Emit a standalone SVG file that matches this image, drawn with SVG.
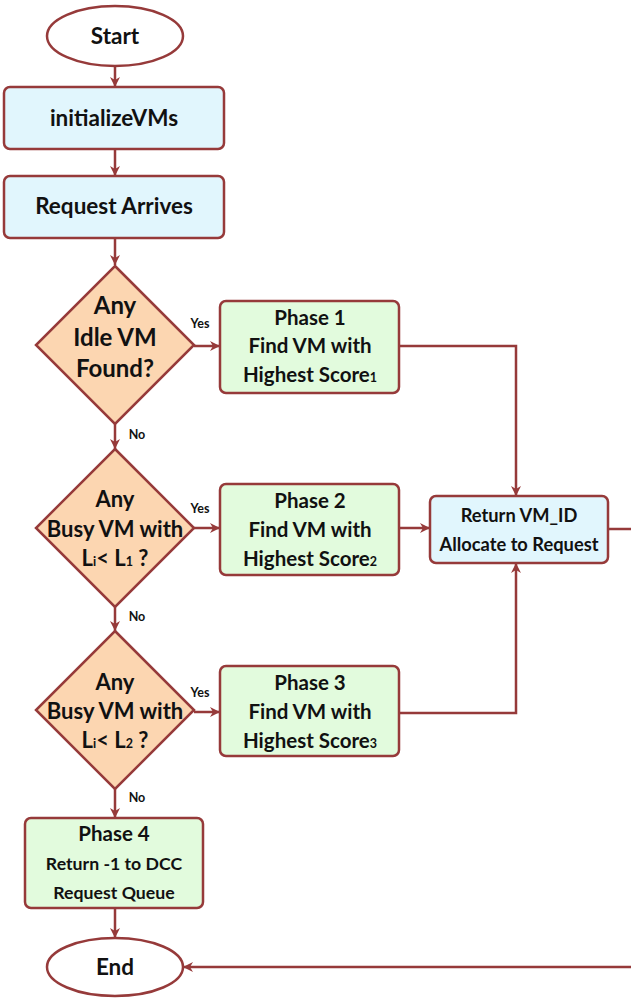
<svg xmlns="http://www.w3.org/2000/svg" width="631" height="1001" viewBox="0 0 631 1001">
  <defs>
    <marker id="arrow" viewBox="0 0 10 10" refX="10" refY="5" markerWidth="10" markerHeight="10" markerUnits="userSpaceOnUse" orient="auto">
      <path d="M0,0 L10,5 L0,10 L3,5 Z" fill="#963a3a"/>
    </marker>
    <style>
      .shape { stroke: #963a3a; stroke-width: 2.5; }
      .term { fill: #ffffff; }
      .proc { fill: #e1f6fd; }
      .phase { fill: #e2fbdd; }
      .dec { fill: #fcd6b1; }
      .conn { fill: none; stroke: #963a3a; stroke-width: 2.5; }
      text { font-family: Lato, "Open Sans", "Liberation Sans", sans-serif; font-weight: bold; fill: #111111; text-anchor: middle; }
      .big { font-size: 22.5px; }
      .dtxt { font-size: 24px; }
      .dtxt2 { font-size: 22px; }
      .ptxt { font-size: 20.5px; }
      .rtxt { font-size: 18.3px; }
      .qtxt { font-size: 17.7px; }
      .small { font-size: 12.5px; }
      .sub { font-size: 12.5px; }
    </style>
  </defs>

  <!-- connectors -->
  <g id="connectors">
    <line class="conn" x1="115" y1="66" x2="115" y2="87" marker-end="url(#arrow)"/>
    <line class="conn" x1="115" y1="149" x2="115" y2="176" marker-end="url(#arrow)"/>
    <line class="conn" x1="115" y1="238" x2="115" y2="265" marker-end="url(#arrow)"/>
    <line class="conn" x1="194" y1="346" x2="220" y2="346" marker-end="url(#arrow)"/>
    <line class="conn" x1="115" y1="424" x2="115" y2="449" marker-end="url(#arrow)"/>
    <line class="conn" x1="194" y1="528" x2="220" y2="528" marker-end="url(#arrow)"/>
    <line class="conn" x1="115" y1="607" x2="115" y2="631" marker-end="url(#arrow)"/>
    <line class="conn" x1="194" y1="712" x2="220" y2="712" marker-end="url(#arrow)"/>
    <line class="conn" x1="115" y1="789" x2="115" y2="818" marker-end="url(#arrow)"/>
    <line class="conn" x1="115" y1="908" x2="115" y2="938" marker-end="url(#arrow)"/>
    <polyline class="conn" points="399,346 516,346 516,496" marker-end="url(#arrow)"/>
    <line class="conn" x1="399" y1="528" x2="430" y2="528" marker-end="url(#arrow)"/>
    <polyline class="conn" points="399,713 516,713 516,563" marker-end="url(#arrow)"/>
    <line class="conn" x1="608" y1="529" x2="633" y2="529"/>
    <line class="conn" x1="633" y1="967" x2="183" y2="967" marker-end="url(#arrow)"/>
    <text class="small" x="200" y="328">Yes</text>
    <text class="small" x="137" y="439">No</text>
    <text class="small" x="200" y="513">Yes</text>
    <text class="small" x="137" y="621">No</text>
    <text class="small" x="200" y="697">Yes</text>
    <text class="small" x="137" y="802">No</text>
  </g>

  <g id="start">
    <ellipse class="shape term" cx="115" cy="36" rx="68" ry="30"/>
    <text class="big" x="115" y="44">Start</text>
  </g>

  <g id="initializeVMs">
    <rect class="shape proc" x="4" y="87" width="220" height="62" rx="6"/>
    <text class="big" x="114" y="126">initializeVMs</text>
  </g>

  <g id="request-arrives">
    <rect class="shape proc" x="4" y="176" width="220" height="62" rx="6"/>
    <text class="big" x="114" y="214">Request Arrives</text>
  </g>

  <g id="decision-idle">
    <polygon class="shape dec" points="115,266 194,345 115,424 36,345"/>
    <text class="dtxt" x="115" y="314">Any</text>
    <text class="dtxt" x="115" y="346">Idle VM</text>
    <text class="dtxt" x="115" y="377">Found?</text>
  </g>

  <g id="phase1">
    <rect class="shape phase" x="220" y="301" width="179" height="92" rx="6"/>
    <text class="ptxt" x="310" y="325">Phase 1</text>
    <text class="ptxt" x="310" y="353">Find VM with</text>
    <text class="ptxt" x="310" y="382">Highest Score<tspan class="sub">1</tspan></text>
  </g>

  <g id="decision-busy1">
    <polygon class="shape dec" points="115,449 194,528 115,607 36,528"/>
    <text class="dtxt2" x="115" y="507">Any</text>
    <text class="dtxt2" x="115" y="537">Busy VM with</text>
    <text class="dtxt2" x="115" y="566">L<tspan class="sub">i</tspan>&lt; L<tspan class="sub">1</tspan> ?</text>
  </g>

  <g id="phase2">
    <rect class="shape phase" x="220" y="484" width="179" height="91" rx="6"/>
    <text class="ptxt" x="310" y="508">Phase 2</text>
    <text class="ptxt" x="310" y="537">Find VM with</text>
    <text class="ptxt" x="310" y="566">Highest Score<tspan class="sub">2</tspan></text>
  </g>

  <g id="return-vm">
    <rect class="shape proc" x="430" y="496" width="178" height="67" rx="6"/>
    <text class="rtxt" x="519" y="522">Return VM_ID</text>
    <text class="rtxt" x="519" y="551">Allocate to Request</text>
  </g>

  <g id="decision-busy2">
    <polygon class="shape dec" points="115,631 194,710 115,789 36,710"/>
    <text class="dtxt2" x="115" y="690">Any</text>
    <text class="dtxt2" x="115" y="719">Busy VM with</text>
    <text class="dtxt2" x="115" y="748">L<tspan class="sub">i</tspan>&lt; L<tspan class="sub">2</tspan> ?</text>
  </g>

  <g id="phase3">
    <rect class="shape phase" x="220" y="666" width="179" height="90" rx="6"/>
    <text class="ptxt" x="310" y="690">Phase 3</text>
    <text class="ptxt" x="310" y="719">Find VM with</text>
    <text class="ptxt" x="310" y="748">Highest Score<tspan class="sub">3</tspan></text>
  </g>

  <g id="phase4">
    <rect class="shape phase" x="25" y="818" width="178" height="90" rx="6"/>
    <text class="ptxt" x="114" y="841">Phase 4</text>
    <text class="qtxt" x="114" y="870">Return -1 to DCC</text>
    <text class="qtxt" x="114" y="899">Request Queue</text>
  </g>

  <g id="end">
    <ellipse class="shape term" cx="115" cy="967" rx="68" ry="29"/>
    <text class="big" x="115" y="975">End</text>
  </g>
</svg>
